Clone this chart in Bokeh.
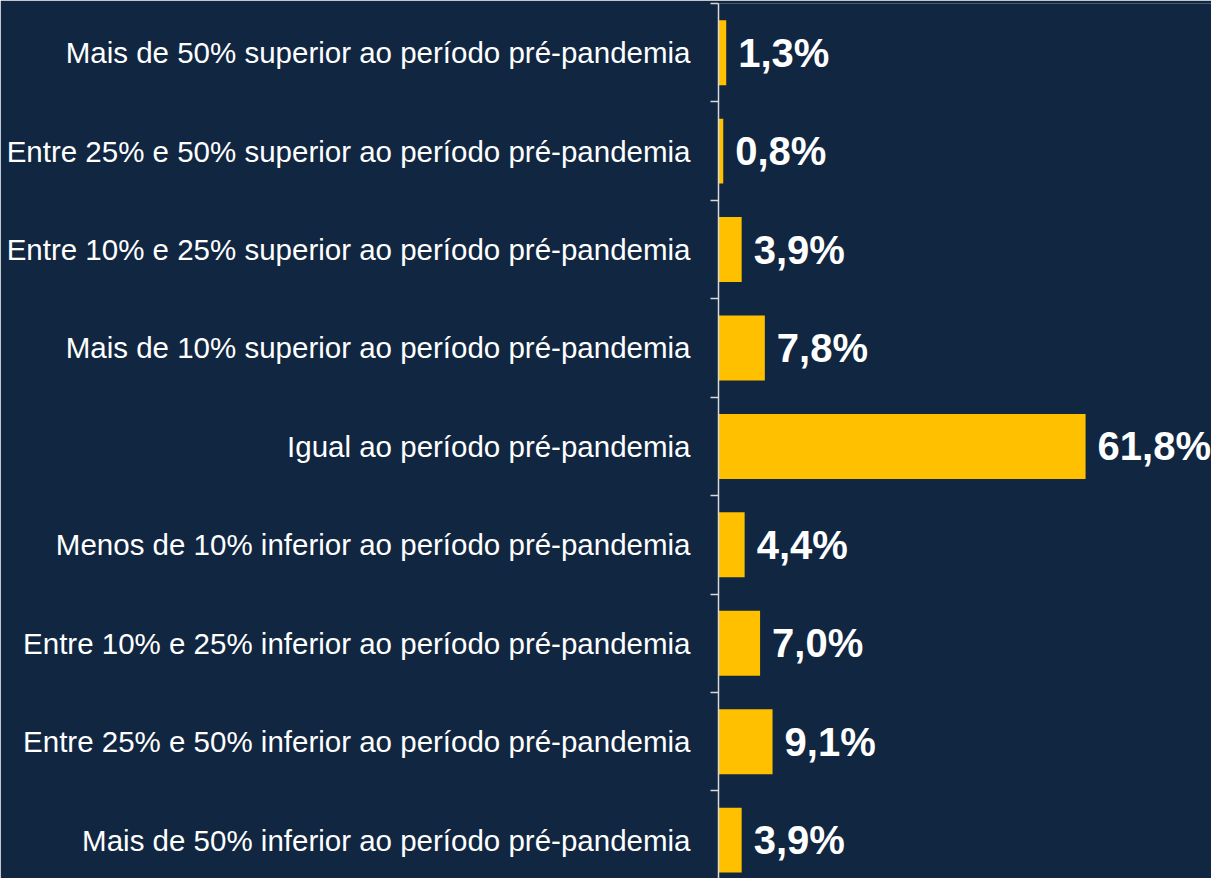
from bokeh.plotting import figure
from bokeh.models import Range1d, FixedTicker, ColumnDataSource
from bokeh.core.properties import value
from bokeh.embed import file_html
from bokeh.resources import INLINE

categories = [
    "Mais de 50% superior ao período pré-pandemia",
    "Entre 25% e 50% superior ao período pré-pandemia",
    "Entre 10% e 25% superior ao período pré-pandemia",
    "Mais de 10% superior ao período pré-pandemia",
    "Igual ao período pré-pandemia",
    "Menos de 10% inferior ao período pré-pandemia",
    "Entre 10% e 25% inferior ao período pré-pandemia",
    "Entre 25% e 50% inferior ao período pré-pandemia",
    "Mais de 50% inferior ao período pré-pandemia",
]
values = [1.3, 0.8, 3.9, 7.8, 61.8, 4.4, 7.0, 9.1, 3.9]

BG = "#112641"
BAR = "#FFC000"
FONT = "Liberation Sans"

pos = list(range(len(categories)))
labels = [f"{v:.1f}".replace(".", ",") + "%" for v in values]
src = ColumnDataSource(dict(y=pos, v=values, lab=labels))

p = figure(width=1211, height=878, output_backend="svg", toolbar_location=None,
           x_range=Range1d(0, 83), y_range=Range1d(8.39, -0.5),
           min_border_top=3, min_border_bottom=0, min_border_left=718, min_border_right=0,
           x_axis_location=None)
p.background_fill_color = BG
p.border_fill_color = BG
p.outline_line_color = None
p.grid.visible = False

p.hbar(y="y", left=0, right="v", height=0.66, source=src, fill_color=BAR, line_color=None)
p.text(x="v", y="y", text="lab", source=src, x_offset=12, text_align="left",
       text_baseline="middle", text_color="white", text_font=value(FONT),
       text_font_size="40px", text_font_style="bold")

ax = p.yaxis[0]
ax.ticker = FixedTicker(ticks=pos, minor_ticks=[i - 0.5 for i in pos])
ax.major_label_overrides = {i: c for i, c in zip(pos, categories)}
ax.major_tick_out = 0
ax.major_tick_in = 0
ax.minor_tick_out = 8
ax.minor_tick_in = 0
ax.minor_tick_line_color = "#D9D9D9"
ax.minor_tick_line_width = 1.5
ax.axis_line_color = "#D9D9D9"
ax.axis_line_width = 1.5
ax.major_label_standoff = 20
ax.major_label_text_font = FONT
ax.major_label_text_font_size = "29.5px"
ax.major_label_text_color = "white"

open("out.html", "w").write(file_html(p, INLINE))
